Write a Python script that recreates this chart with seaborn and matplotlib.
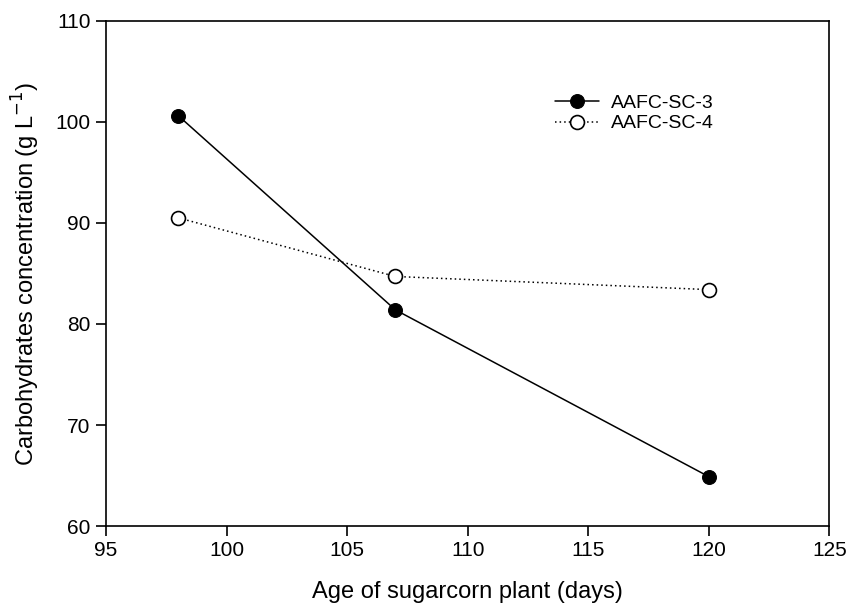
import matplotlib
matplotlib.use("Agg")
import matplotlib.pyplot as plt
import seaborn as sns
import pandas as pd

days = [98, 107, 120]
sc3 = [100.6, 81.4, 64.9]
sc4 = [90.5, 84.7, 83.4]
x_ticks = [95, 100, 105, 110, 115, 120, 125]
y_ticks = [60, 70, 80, 90, 100, 110]

sns.set_theme(style="white")
plt.rcParams['font.family'] = ['Liberation Sans', 'DejaVu Sans']
plt.rcParams['text.color'] = 'black'
plt.rcParams['axes.labelcolor'] = 'black'

fig = plt.figure(figsize=(8.48, 6.09), dpi=100)
ax = fig.add_axes([0.125, 0.136, 0.853, 0.830])

df3 = pd.DataFrame({"x": days, "y": sc3})
df4 = pd.DataFrame({"x": days, "y": sc4})
sns.lineplot(data=df3, x="x", y="y", ax=ax, color="black", linewidth=1.1,
             marker="o", markersize=10, markerfacecolor="black",
             markeredgecolor="black", label="AAFC-SC-3")
sns.lineplot(data=df4, x="x", y="y", ax=ax, color="black", linewidth=1.1,
             linestyle=(0, (1, 2)), marker="o", markersize=10,
             markerfacecolor="white", markeredgecolor="black",
             markeredgewidth=1.2, label="AAFC-SC-4")

ax.set_xlim(95, 125)
ax.set_ylim(60, 110)
ax.set_xticks(x_ticks)
ax.set_yticks(y_ticks)
ax.tick_params(axis="both", direction="out", length=7, width=1.2,
               labelsize=15, color="black", labelcolor="black",
               bottom=True, left=True, top=False, right=False, pad=4)
for s in ax.spines.values():
    s.set_color("black")
    s.set_linewidth(1.2)
ax.set_xlabel("Age of sugarcorn plant (days)", fontsize=17, labelpad=15, color="black")
ax.set_ylabel("Carbohydrates concentration (g L$^{-1}$)", fontsize=17, labelpad=10, color="black")

leg = ax.legend(loc="upper left", bbox_to_anchor=(0.596, 0.889), frameon=False,
                fontsize=14, handlelength=2.3, handletextpad=0.6,
                labelspacing=0.15, borderpad=0.4)
for t in leg.get_texts():
    t.set_color("black")

fig.savefig("out.png", dpi=100)
